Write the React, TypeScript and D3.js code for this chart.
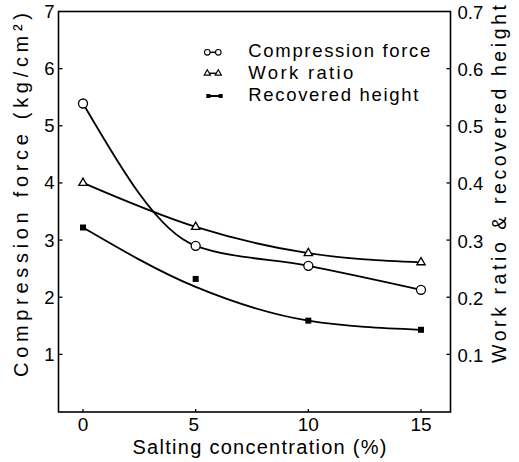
import React from 'react';
import * as d3 from 'd3';

const salting = [0, 5, 10, 15];
const compressionForce = [5.39, 2.9, 2.55, 2.13];
const workRatio = [0.4, 0.323, 0.277, 0.261];
const recoveredHeight = [0.322, 0.232, 0.159, 0.143];
const recoveredHeightFit = [0.322, 0.218, 0.159, 0.143];
const leftTicks = [1, 2, 3, 4, 5, 6, 7];
const rightTicks = [0.1, 0.2, 0.3, 0.4, 0.5, 0.6, 0.7];
const xTicks = [0, 5, 10, 15];
const legendLabels = ['Compression force', 'Work ratio', 'Recovered height'];

const W = 519;
const H = 462;
const L = 58.5, R = 450.5, T = 11.5, B = 412;
const FONT = '"Liberation Sans", Arial, Helvetica, sans-serif';

export default function App() {
  const x = d3.scaleLinear().domain([0, 15]).range([83, 421]);
  const yL = d3.scaleLinear().domain([0, 7]).range([411.5, 11.5]);
  const yR = d3.scaleLinear().domain([0, 0.7]).range([411.5, 11.5]);

  const lineL = d3.line<number>().x((_, i) => x(salting[i])).y((d) => yL(d)).curve(d3.curveMonotoneX);
  const lineR = d3.line<number>().x((_, i) => x(salting[i])).y((d) => yR(d)).curve(d3.curveMonotoneX);

  const tri = d3.symbol(d3.symbolTriangle, 30)() as string;
  const triSmall = d3.symbol(d3.symbolTriangle, 17)() as string;

  const legendY = [52.3, 73.3, 96];
  const legendTextY = [56.5, 79, 101];
  const legendLen = [182, 105, 170];

  return (
    <svg width={W} height={H} style={{ position: 'absolute', left: 0, top: 0, background: '#fff' }}>
      <rect x={0} y={0} width={W} height={H} fill="#fff" />
      {/* frame */}
      <rect x={L} y={T} width={R - L} height={B - T} fill="none" stroke="#000" strokeWidth={1.6} />
      {/* left ticks */}
      {leftTicks.map((t) => (
        <g key={'l' + t}>
          {t < 7 && <line x1={L} x2={L + 4} y1={yL(t)} y2={yL(t)} stroke="#000" strokeWidth={1.3} />}
          <text x={54.5} y={yL(t) + 6.5} textAnchor="end" fontSize={18.5} fontFamily={FONT}>{t}</text>
        </g>
      ))}
      {/* right ticks */}
      {rightTicks.map((t) => (
        <g key={'r' + t}>
          {t < 0.7 && <line x1={R - 4} x2={R} y1={yR(t)} y2={yR(t)} stroke="#000" strokeWidth={1.3} />}
          <text x={457.5} y={yR(t) + 7.5} textAnchor="start" fontSize={18.5} fontFamily={FONT}>{t.toFixed(1)}</text>
        </g>
      ))}
      {/* x ticks */}
      {xTicks.map((t) => (
        <g key={'x' + t}>
          <line x1={x(t)} x2={x(t)} y1={B} y2={B - 3} stroke="#000" strokeWidth={1.3} />
          <text x={x(t) + (t === 5 ? -2 : 0)} y={431} textAnchor="middle" fontSize={19} fontFamily={FONT}>{t}</text>
        </g>
      ))}
      {/* axis titles */}
      <text x={259.5} y={454} textAnchor="middle" fontSize={20} fontFamily={FONT} textLength={254} lengthAdjust="spacing">
        Salting concentration (%)
      </text>
      <text transform="translate(27.5,195) rotate(-90)" textAnchor="middle" fontSize={20} fontFamily={FONT} textLength={364} lengthAdjust="spacing">
        Compression force (kg/cm²)
      </text>
      <text transform="translate(506,184) rotate(-90)" textAnchor="middle" fontSize={19.5} fontFamily={FONT} textLength={358} lengthAdjust="spacing">
        Work ratio &amp; recovered height
      </text>

      {/* lines */}
      <path d={lineL(compressionForce) || ''} fill="none" stroke="#000" strokeWidth={1.8} />
      <path d={lineR(workRatio) || ''} fill="none" stroke="#000" strokeWidth={1.8} />
      <path d={lineR(recoveredHeightFit) || ''} fill="none" stroke="#000" strokeWidth={1.8} />

      {/* markers */}
      {compressionForce.map((v, i) => (
        <circle key={'c' + i} cx={x(salting[i])} cy={yL(v)} r={4.5} fill="#fff" stroke="#000" strokeWidth={1.3} />
      ))}
      {workRatio.map((v, i) => (
        <path key={'t' + i} d={tri} transform={`translate(${x(salting[i])},${yR(v)})`} fill="#fff" stroke="#000" strokeWidth={1.3} />
      ))}
      {recoveredHeight.map((v, i) => (
        <rect key={'s' + i} x={x(salting[i]) - 3} y={yR(v) - 3} width={6} height={6} fill="#000" />
      ))}

      {/* legend */}
      <line x1={207.3} x2={218.3} y1={legendY[0]} y2={legendY[0]} stroke="#000" strokeWidth={1.5} />
      <circle cx={207.3} cy={legendY[0]} r={2.8} fill="#fff" stroke="#000" strokeWidth={1.1} />
      <circle cx={218.3} cy={legendY[0]} r={2.8} fill="#fff" stroke="#000" strokeWidth={1.1} />
      <line x1={207.3} x2={218.3} y1={legendY[1]} y2={legendY[1]} stroke="#000" strokeWidth={1.5} />
      <path d={triSmall} transform={`translate(207.3,${legendY[1]})`} fill="#fff" stroke="#000" strokeWidth={1.1} />
      <path d={triSmall} transform={`translate(218.3,${legendY[1]})`} fill="#fff" stroke="#000" strokeWidth={1.1} />
      <line x1={208.3} x2={220.7} y1={legendY[2]} y2={legendY[2]} stroke="#000" strokeWidth={2} />
      <rect x={206.3} y={legendY[2] - 2} width={4} height={4} fill="#000" />
      <rect x={218.7} y={legendY[2] - 2} width={4} height={4} fill="#000" />
      {legendLabels.map((s, i) => (
        <text key={s} x={248.3} y={legendTextY[i]} fontSize={18.5} fontFamily={FONT} textLength={legendLen[i]} lengthAdjust="spacing">
          {s}
        </text>
      ))}
    </svg>
  );
}
